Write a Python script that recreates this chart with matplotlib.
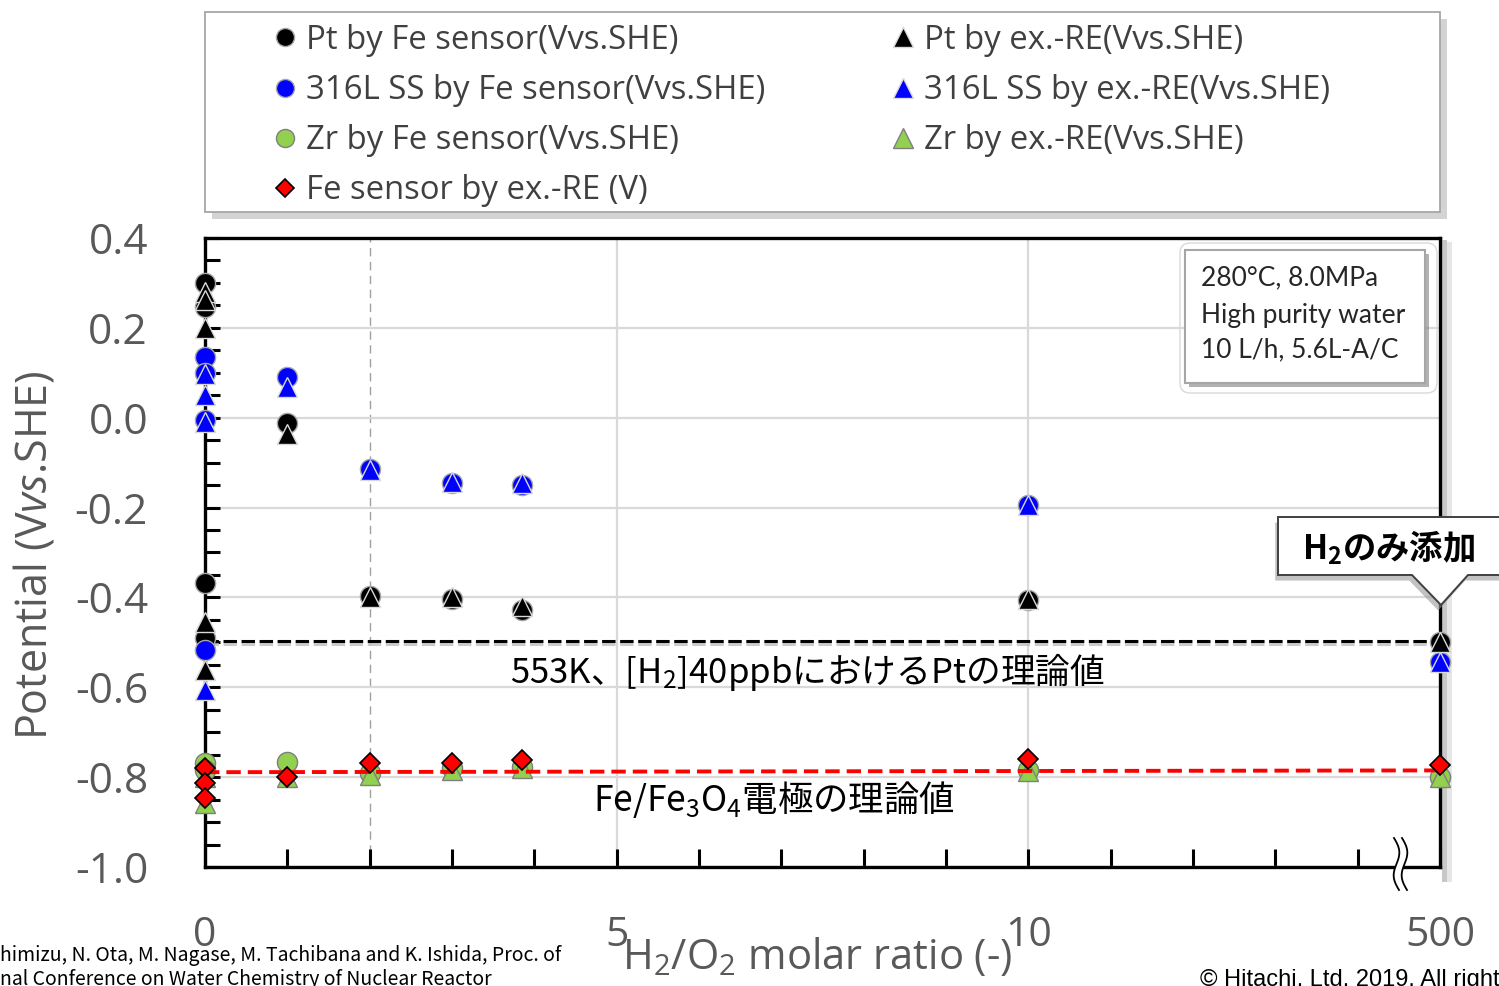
import numpy as np
import matplotlib
matplotlib.use("Agg")
import matplotlib.pyplot as plt
from matplotlib.lines import Line2D
from matplotlib.patches import Rectangle, Polygon, FancyBboxPatch
from matplotlib.ticker import MultipleLocator, FixedLocator
from matplotlib.transforms import Affine2D
import matplotlib.patheffects as pe

plt.rcParams["font.family"] = ["Open Sans", "DejaVu Sans"]
plt.rcParams["mathtext.fontset"] = "custom"
plt.rcParams["mathtext.rm"] = "Open Sans"
plt.rcParams["mathtext.it"] = "Open Sans:italic"
plt.rcParams["mathtext.default"] = "regular"

# ---- data ---------------------------------------------------------------
# positions on the broken x axis: 0..10 linear, the "500" group sits at 15
ratio_ticks = [0, 5, 10, 15]
ratio_tick_labels = ["0", "5", "10", "500"]
potential_ticks = [-1.0, -0.8, -0.6, -0.4, -0.2, 0.0, 0.2, 0.4]
potential_tick_labels = ["-1.0", "-0.8", "-0.6", "-0.4", "-0.2", "0.0", "0.2", "0.4"]

pt_fe_x = [0, 0, 0, 0, 1, 2, 3, 3.85, 10, 15]
pt_fe_y = [0.300, 0.246, -0.368, -0.490, -0.012, -0.397, -0.404, -0.428, -0.406, -0.499]
pt_re_x = [0, 0, 0, 0, 0, 1, 2, 3, 3.85, 10, 15]
pt_re_y = [0.280, 0.262, 0.200, -0.455, -0.561, -0.036, -0.398, -0.400, -0.420, -0.403, -0.499]

ss_fe_x = [0, 0, 0, 0, 1, 2, 3, 3.85, 10, 15]
ss_fe_y = [0.135, 0.100, -0.005, -0.517, 0.090, -0.114, -0.145, -0.150, -0.194, -0.544]
ss_re_x = [0, 0, 0, 0, 1, 2, 3, 3.85, 10, 15]
ss_re_y = [0.097, 0.050, -0.010, -0.605, 0.068, -0.116, -0.143, -0.145, -0.194, -0.544]

zr_fe_x = [0, 0, 1, 2, 3, 3.85, 10, 15]
zr_fe_y = [-0.768, -0.785, -0.766, -0.790, -0.780, -0.777, -0.784, -0.800]
zr_re_x = [0, 0, 1, 2, 3, 3.85, 10, 15]
zr_re_y = [-0.800, -0.858, -0.800, -0.795, -0.785, -0.780, -0.787, -0.800]

fe_re_x = [0, 0, 0, 1, 2, 3, 3.85, 10, 15]
fe_re_y = [-0.780, -0.813, -0.846, -0.800, -0.769, -0.768, -0.762, -0.760, -0.773]

# theoretical potentials
pt_theory_x = [0, 15]
pt_theory_y = [-0.497, -0.497]
fe_theory_x = [0, 15]
fe_theory_y = [-0.789, -0.785]

labels_fe = ["Pt by Fe sensor(Vvs.SHE)", "316L SS by Fe sensor(Vvs.SHE)",
             "Zr by Fe sensor(Vvs.SHE)", "Fe sensor by ex.-RE (V)"]
labels_re = ["Pt by ex.-RE(Vvs.SHE)", "316L SS by ex.-RE(Vvs.SHE)",
             "Zr by ex.-RE(Vvs.SHE)"]

# ---- colours ------------------------------------------------------------
BLACK, BLUE, GREEN, RED = "#000000", "#0000ff", "#92d050", "#ff0000"
CIRCLE_EDGE, TRI_EDGE, GREEN_EDGE = "#a6a6a6", "#d9d9d9", "#7f7f7f"
TXT_GREY = "#595959"

W, H = 1499, 986
fig = plt.figure(figsize=(W / 100, H / 100), dpi=100)
fig.patch.set_facecolor("white")

# pixel transform (origin top-left) for the page decorations
pix = Affine2D().scale(1 / W, -1 / H).translate(0, 1) + fig.transFigure

ax = fig.add_axes([205 / W, 1 - 867 / H, (1440 - 205) / W, (867 - 238) / H])
ax.set_xlim(0, 15)
ax.set_ylim(-1.0, 0.4)

# grid
ax.yaxis.set_major_locator(FixedLocator(potential_ticks))
ax.set_yticklabels(potential_tick_labels)
ax.yaxis.set_minor_locator(MultipleLocator(0.05))
ax.grid(axis="y", which="major", color="#d9d9d9", lw=1.6, zorder=0)
for gx in (5, 10):
    ax.axvline(gx, color="#d9d9d9", lw=1.6, zorder=0.5)
ax.axvline(2, color="#a0a0a0", lw=1.0, ls=(0, (6, 4)), zorder=0.5)

ax.xaxis.set_major_locator(FixedLocator(ratio_ticks))
ax.set_xticklabels(ratio_tick_labels)
ax.xaxis.set_minor_locator(MultipleLocator(1))

ax.tick_params(axis="y", which="both", direction="in", length=11, width=2.2,
               color="black", left=True, right=False)
ax.tick_params(axis="y", which="major", labelsize=30.5, labelcolor=TXT_GREY, pad=41)
ax.tick_params(axis="x", which="both", direction="in", length=13, width=2.2,
               color="black", top=False)
ax.tick_params(axis="x", which="major", labelsize=29.5, labelcolor=TXT_GREY, pad=35)

for s in ax.spines.values():
    s.set_linewidth(2.4)
    s.set_color("black")

ax.set_ylabel(r"Potential (V$\mathit{vs}$.SHE)", fontsize=31, color=TXT_GREY)
ax.yaxis.set_label_coords((58 - 205) / 1235, 0.495)
ax.set_xlabel(r"H$_2$/O$_2$ molar ratio (-)", fontsize=30, color=TXT_GREY)
ax.xaxis.set_label_coords((817 - 205) / 1235, (867 - 936) / 629)

# theoretical lines
ax.plot(pt_theory_x, pt_theory_y, color="black", lw=2.2, dashes=(4.4, 1.5),
        zorder=3, clip_on=False,
        path_effects=[pe.SimpleLineShadow(offset=(0, -2), shadow_color="#bfbfbf", alpha=0.8),
                      pe.Normal()])

# markers
circ = dict(ls="none", marker="o", ms=14.5, mew=1.0, clip_on=False)
tri = dict(ls="none", marker="^", ms=14.5, mew=1.0, clip_on=False)
ax.plot(pt_fe_x, pt_fe_y, mfc=BLACK, mec=CIRCLE_EDGE, zorder=5, **circ)
ax.plot(pt_re_x, pt_re_y, mfc=BLACK, mec=TRI_EDGE, zorder=6, **tri)
ax.plot(ss_fe_x, ss_fe_y, mfc=BLUE, mec=CIRCLE_EDGE, zorder=5, **circ)
ax.plot(ss_re_x, ss_re_y, mfc=BLUE, mec=TRI_EDGE, zorder=6, **tri)
ax.plot(zr_fe_x, zr_fe_y, mfc=GREEN, mec=GREEN_EDGE, zorder=5, **circ)
ax.plot(zr_re_x, zr_re_y, mfc=GREEN, mec=GREEN_EDGE, zorder=6, **tri)
ax.plot(fe_theory_x, fe_theory_y, color=RED, lw=2.8, dashes=(3.7, 1.8),
        zorder=7, clip_on=False)
ax.plot(fe_re_x, fe_re_y, ls="none", marker="D", ms=10, mfc=RED, mec="black",
        mew=1.2, zorder=8, clip_on=False)

# shadow along the right side of the plot area (drawn beneath the axes)
fig.add_artist(Rectangle((1442, 240), 5, 642, transform=pix, fc="#c8c8c8", ec="none", zorder=-2))
fig.add_artist(Rectangle((1447, 242), 5, 640, transform=pix, fc="#e6e6e6", ec="none", zorder=-2))

# axis break mark
t = np.linspace(0, 1, 60)
by = 838 + 52 * t
bx1 = 1394 + 4 * np.sin(2 * np.pi * t) + 5 * t
bx2 = bx1 + 8
fig.add_artist(Polygon(np.column_stack([np.r_[bx1, bx2[::-1]], np.r_[by, by[::-1]]]),
                       closed=True, transform=pix, fc="white", ec="none", zorder=2))
fig.add_artist(Line2D(bx1, by, transform=pix, color="black", lw=1.3, zorder=2.1))
fig.add_artist(Line2D(bx2, by, transform=pix, color="black", lw=1.3, zorder=2.1))

# legend frame
fig.add_artist(Rectangle((205, 12), 1235, 200, transform=pix, fc="white", ec="#a6a6a6",
                         lw=1.3, zorder=1,
                         path_effects=[pe.withSimplePatchShadow(offset=(5, -5),
                                                                shadow_rgbFace="#b0b0b0",
                                                                alpha=0.55)]))

h_fe = [Line2D([], [], ls="none", marker="o", ms=13, mfc=BLACK, mec=CIRCLE_EDGE),
        Line2D([], [], ls="none", marker="o", ms=13, mfc=BLUE, mec=CIRCLE_EDGE),
        Line2D([], [], ls="none", marker="o", ms=13, mfc=GREEN, mec=GREEN_EDGE),
        Line2D([], [], ls="none", marker="D", ms=9, mfc=RED, mec="black", mew=1.2)]
h_re = [Line2D([], [], ls="none", marker="^", ms=14, mfc=BLACK, mec=TRI_EDGE),
        Line2D([], [], ls="none", marker="^", ms=14, mfc=BLUE, mec=TRI_EDGE),
        Line2D([], [], ls="none", marker="^", ms=14, mfc=GREEN, mec=GREEN_EDGE)]

leg_kw = dict(loc="upper left", frameon=False, fontsize=23.7, handlelength=0.8,
              handletextpad=0.24, labelspacing=0.52, borderpad=0, borderaxespad=0,
              labelcolor="#404040", bbox_transform=fig.transFigure)
fig.legend(handles=h_fe, labels=labels_fe, bbox_to_anchor=(272 / W, 1 - 24 / H), **leg_kw)
fig.legend(handles=h_re, labels=labels_re, bbox_to_anchor=(890 / W, 1 - 24 / H), **leg_kw)

# condition box
fig.add_artist(FancyBboxPatch((1180, 243), 257, 150, boxstyle="round,pad=0,rounding_size=10",
                              transform=pix, fc="none", ec="#d9d9d9", lw=1.0, zorder=1))
fig.add_artist(Rectangle((1185, 250), 240, 133, transform=pix, fc="white", ec="#a6a6a6",
                         lw=1.5, zorder=1.2,
                         path_effects=[pe.withSimplePatchShadow(offset=(3, -3),
                                                                shadow_rgbFace="#7f7f7f",
                                                                alpha=0.6)]))
for line, ly in zip(["280°C, 8.0MPa", "High purity water", "10 L/h, 5.6L-A/C"],
                    [278, 315, 350]):
    fig.text(1201, ly, line, transform=pix, fontsize=19, family=["Lato", "DejaVu Sans"],
             color="#262626", ha="left", va="center", zorder=4)

# callout "H2 only"
fig.add_artist(Polygon([(1278, 517), (1510, 517), (1510, 575), (1468, 575), (1441, 605),
                        (1412, 575), (1278, 575)], closed=True, transform=pix,
                       fc="white", ec="#404040", lw=1.4, zorder=2,
                       path_effects=[pe.withSimplePatchShadow(offset=(-2, -4),
                                                              shadow_rgbFace="#9a9a9a",
                                                              alpha=0.6)]))
fig.text(1389, 548, "H$_2$のみ添加", transform=pix, fontsize=24, fontweight="bold",
         family="Noto Sans CJK JP", color="black", ha="center", va="center", zorder=4)

# annotations for the theoretical lines
fig.text(510, 672, "553K、[H$_2$]40ppbにおけるPtの理論値", transform=pix, fontsize=25,
         family="Noto Sans CJK JP", color="black", ha="left", va="center", zorder=4)
fig.text(593, 800, "Fe/Fe$_3$O$_4$電極の理論値", transform=pix, fontsize=25.5,
         family="Noto Sans CJK JP", color="black", ha="left", va="center", zorder=4)

# source and copyright lines
fig.text(0, 955, "himizu, N. Ota, M. Nagase, M. Tachibana and K. Ishida, Proc. of",
         transform=pix, fontsize=14, family="Noto Sans CJK JP", color="black",
         ha="left", va="center")
fig.text(0, 980, "nal Conference on Water Chemistry of Nuclear Reactor",
         transform=pix, fontsize=14, family="Noto Sans CJK JP", color="black",
         ha="left", va="center")
fig.text(1200, 969, "© Hitachi, Ltd. 2019. All rights reserved.", transform=pix,
         fontsize=17, family="Liberation Sans", color="black", ha="left", va="top")

fig.savefig("out.png", dpi=100, facecolor="white")
